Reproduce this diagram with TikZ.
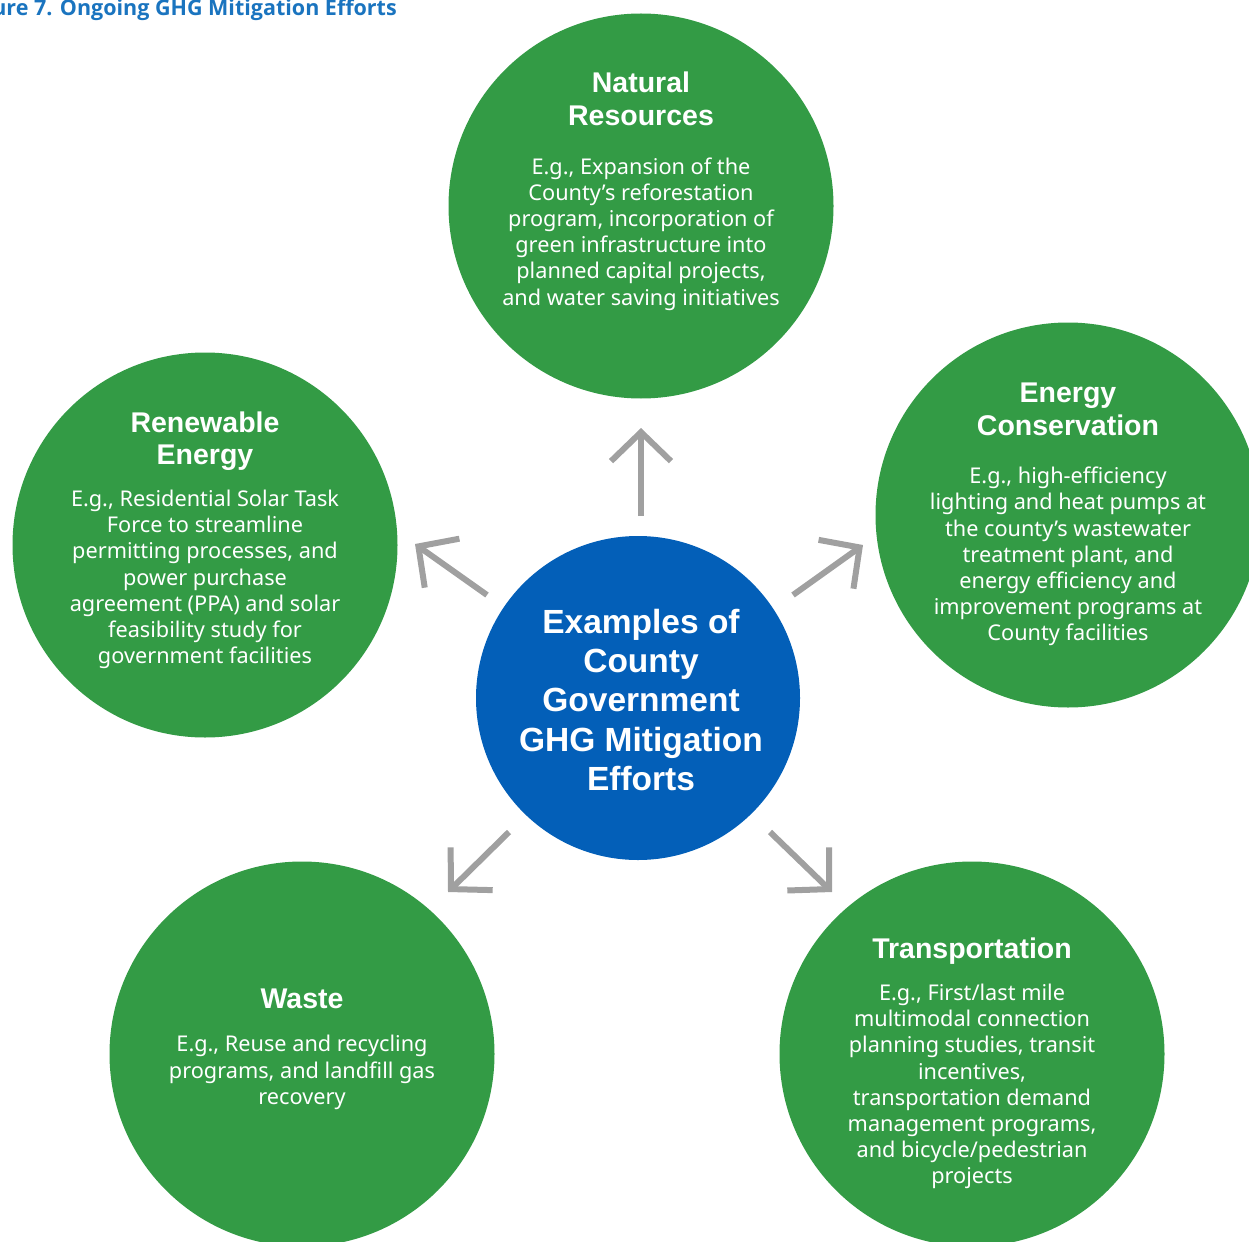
\documentclass[tikz,border=0pt]{standalone}
\usepackage{fontspec}
\setmainfont{Liberation Sans}
\newfontfamily\titlefont{Open Sans}
\newfontfamily\bodyfont{Noto Sans}
\usetikzlibrary{arrows.meta}
\definecolor{cgreen}{HTML}{339B45}
\definecolor{cblue}{HTML}{035FB8}
\definecolor{cgray}{HTML}{A0A0A0}
\definecolor{ctitle}{HTML}{1A74BF}
\tikzset{
  greencirc/.style={circle, fill=cgreen, minimum size=385pt, inner sep=0pt},
  bluecirc/.style={circle, fill=cblue, minimum size=324pt, inner sep=0pt},
  headtext/.style={text=white, align=center, inner sep=0pt, font=\bfseries\fontsize{28.5}{32.5}\selectfont},
  bodytext/.style={text=white, align=center, inner sep=0pt, font=\bodyfont\fontsize{21.7}{26.2}\selectfont},
  centertext/.style={text=white, align=center, inner sep=0pt, font=\bfseries\fontsize{33.5}{39.2}\selectfont},
  arr/.style={draw=cgray, line width=6pt, -{Straight Barb[length=29pt,width=60pt,line join=miter]}}
}
\begin{document}
\begin{tikzpicture}[x=1pt,y=-1pt]
\useasboundingbox (0,0) rectangle (1249,1241);
% title (partly cut off at the left edge, as in the reference)
\node[anchor=base east, inner sep=0pt, text=ctitle, font=\titlefont\bfseries\fontsize{21.5}{24}\selectfont] (title) at (397,16) {Figure 7. Ongoing GHG Mitigation Efforts};
% circles
\node[greencirc] (nr) at (641,206) {};
\node[greencirc] (ec) at (1068,515) {};
\node[greencirc] (re) at (205,545) {};
\node[greencirc] (wa) at (302,1054) {};
\node[greencirc] (tr) at (972,1054) {};
\node[bluecirc] (ce) at (638,698) {};
% texts
\node[headtext] (nrh) at (641,99) {Natural\\Resources};
\node[bodytext] (nrb) at (641,234) {E.g., Expansion of the\\County’s reforestation\\program, incorporation of\\green infrastructure into\\planned capital projects,\\and water saving initiatives};
\node[headtext] (ech) at (1068,409.5) {Energy\\Conservation};
\node[bodytext] (ecb) at (1068,556.5) {E.g., high-efficiency\\lighting and heat pumps at\\the county’s wastewater\\treatment plant, and\\energy efficiency and\\improvement programs at\\County facilities};
\node[headtext] (reh) at (205,441) {Renewable\\Energy};
\node[bodytext] (reb) at (205,579.5) {E.g., Residential Solar Task\\Force to streamline\\permitting processes, and\\power purchase\\agreement (PPA) and solar\\feasibility study for\\government facilities};
\node[headtext] (wah) at (302,999) {Waste};
\node[bodytext] (wab) at (302,1072.5) {E.g., Reuse and recycling\\programs, and landfill gas\\recovery};
\node[headtext] (trh) at (972,951) {Transportation};
\node[bodytext] (trb) at (972,1086.5) {E.g., First/last mile\\multimodal connection\\planning studies, transit\\incentives,\\transportation demand\\management programs,\\and bicycle/pedestrian\\projects};
\node[centertext] (ceh) at (641,700) {Examples of\\County\\Government\\GHG Mitigation\\Efforts};
% arrow end points
\coordinate (a1s) at (641,516); \coordinate (a1e) at (641,428);
\coordinate (a2s) at (487,595); \coordinate (a2e) at (415,544);
\coordinate (a3s) at (793,595); \coordinate (a3e) at (863,545);
\coordinate (a4s) at (509,832); \coordinate (a4e) at (448,892);
\coordinate (a5s) at (770,832); \coordinate (a5e) at (832,892);
\draw[arr] (a1s) -- (a1e);
\draw[arr] (a2s) -- (a2e);
\draw[arr] (a3s) -- (a3e);
\draw[arr] (a4s) -- (a4e);
\draw[arr] (a5s) -- (a5e);
\end{tikzpicture}
\end{document}
